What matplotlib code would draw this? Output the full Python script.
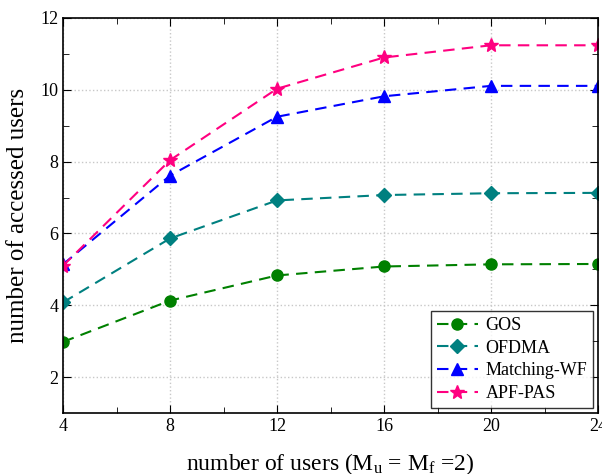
import matplotlib
matplotlib.use("Agg")
import matplotlib.pyplot as plt
import numpy as np

plt.rcParams['font.family'] = ['Liberation Serif', 'DejaVu Serif']
plt.rcParams['mathtext.fontset'] = 'custom'
plt.rcParams['mathtext.rm'] = 'Liberation Serif'
plt.rcParams['mathtext.it'] = 'Liberation Serif'

users = [4, 8, 12, 16, 20, 24]
gos = [2.98, 4.13, 4.83, 5.08, 5.14, 5.15]
ofdma = [4.08, 5.86, 6.92, 7.07, 7.12, 7.13]
matching_wf = [5.14, 7.61, 9.25, 9.82, 10.11, 10.11]
apf_pas = [5.10, 8.04, 10.03, 10.90, 11.24, 11.24]

fig = plt.figure(figsize=(6.02, 4.74), dpi=100)
ax = fig.add_axes([63/602, 61/474, 535/602, 395/474])

ax.plot(users, gos, '--', color='#008000', marker='o', ms=8, lw=1.5, dashes=(5.5, 3.5), label='GOS')
ax.plot(users, ofdma, '--', color='#008080', marker='D', ms=7, lw=1.5, dashes=(5.5, 3.5), label='OFDMA')
ax.plot(users, matching_wf, '--', color='#0000ff', marker='^', ms=9, lw=1.5, dashes=(5.5, 3.5), label='Matching-WF')
ax.plot(users, apf_pas, '--', color='#ff0080', marker='*', ms=10, lw=1.5, dashes=(5.5, 3.5), label='APF-PAS')

ax.set_xlim(4, 24)
ax.set_ylim(1, 12)
ax.set_xticks([4, 8, 12, 16, 20, 24])
ax.set_xticks([6, 10, 14, 18, 22], minor=True)
ax.set_yticks([2, 4, 6, 8, 10, 12])
ax.set_yticks([3, 5, 7, 9, 11], minor=True)
ax.grid(True, which='major', ls=':', color='#c8c8c8', lw=1)
ax.tick_params(which='both', direction='in', top=True, right=True, labelsize=13)
ax.tick_params(which='major', length=6)
ax.tick_params(which='minor', length=4)
for s in ax.spines.values():
    s.set_linewidth(1.2)

ax.set_xlabel(r'number of users (M$_\mathrm{u}$ = M$_\mathrm{f}$ =2)', fontsize=17, labelpad=12)
ax.set_ylabel('number of accessed users', fontsize=18, labelpad=8)

leg = ax.legend(loc='lower right', fontsize=13, fancybox=False, edgecolor='black',
                borderaxespad=0.3, handlelength=2.3, handletextpad=0.4,
                labelspacing=0.32, borderpad=0.3)
leg.get_frame().set_linewidth(1.0)

fig.savefig('out.png', dpi=100)
